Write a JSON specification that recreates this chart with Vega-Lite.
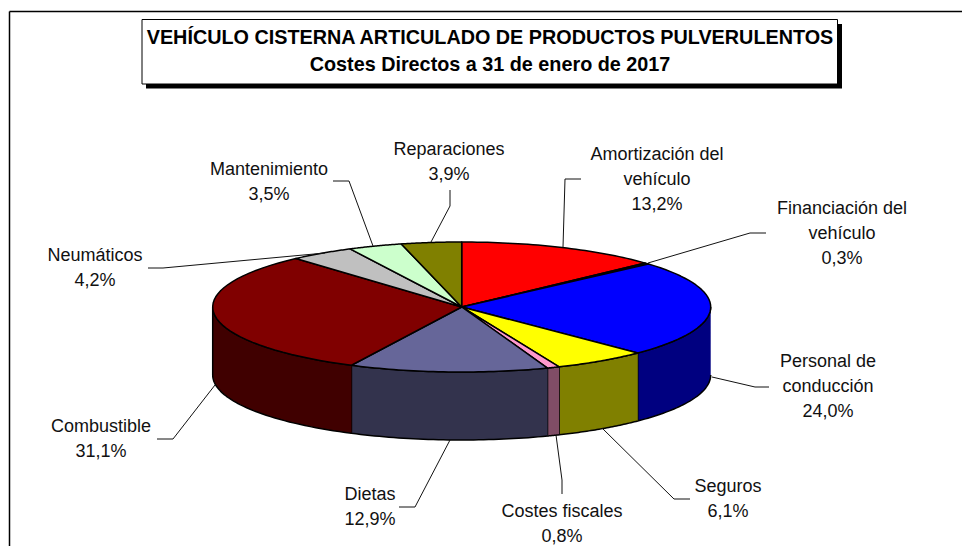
{
"$schema":"https://vega.github.io/schema/vega-lite/v6.json",
"width":953,"height":535,"autosize":"none",
"padding":{"left":9,"top":11,"right":0,"bottom":0},
"background":"white",
"config":{"view":{"stroke":null},"font":"Liberation Sans"},
"data":{"values":[
{"name":"Amortización del vehículo","label":"Amortización del\nvehículo","value":13.2},
{"name":"Financiación del vehículo","label":"Financiación del\nvehículo","value":0.3},
{"name":"Personal de conducción","label":"Personal de\nconducción","value":24.0},
{"name":"Seguros","label":"Seguros","value":6.1},
{"name":"Costes fiscales","label":"Costes fiscales","value":0.8},
{"name":"Dietas","label":"Dietas","value":12.9},
{"name":"Combustible","label":"Combustible","value":31.1},
{"name":"Neumáticos","label":"Neumáticos","value":4.2},
{"name":"Mantenimiento","label":"Mantenimiento","value":3.5},
{"name":"Reparaciones","label":"Reparaciones","value":3.9}
]},
"transform":[
{"window":[{"op":"sum","field":"value","as":"cum"}]},
{"calculate":"2*PI*(datum.cum-datum.value)/100","as":"t0"},
{"calculate":"2*PI*datum.cum/100","as":"t1"}
],
"encoding":{
"x":{"field":"px","type":"quantitative","scale":{"domain":[9,962],"range":[0,953]},"axis":{"orient":"top","ticks":false,"labels":false,"grid":false,"title":null,"domainColor":"black","domainWidth":1.5}},
"y":{"field":"py","type":"quantitative","scale":{"domain":[11,546],"range":[0,535]},"axis":{"orient":"left","ticks":false,"labels":false,"grid":false,"title":null,"domainColor":"black","domainWidth":1.5}}
},
"layer":[
{"data":{"values":[{"box":"shadow"}]},
 "transform":[{"calculate":"146","as":"px"},{"calculate":"842","as":"px2"},{"calculate":"24","as":"py"},{"calculate":"88.5","as":"py2"}],
 "mark":{"type":"rect","fill":"black"},
 "encoding":{"x2":{"field":"px2"},"y2":{"field":"py2"}}},
{"data":{"values":[{"box":"title"}]},
 "transform":[{"calculate":"142","as":"px"},{"calculate":"837.5","as":"px2"},{"calculate":"19.5","as":"py"},{"calculate":"84","as":"py2"}],
 "mark":{"type":"rect","fill":"white","stroke":"black","strokeWidth":1},
 "encoding":{"x2":{"field":"px2"},"y2":{"field":"py2"}}},
{"data":{"values":[{"title":"VEHÍCULO CISTERNA ARTICULADO DE PRODUCTOS PULVERULENTOS\nCostes Directos a 31 de enero de 2017"}]},
 "transform":[{"calculate":"490","as":"px"},{"calculate":"43.5","as":"py"}],
 "mark":{"type":"text","font":"Liberation Sans","fontSize":19.8,"fontWeight":"bold","lineBreak":"\n","lineHeight":27.5,"align":"center","baseline":"alphabetic","color":"black"},
 "encoding":{"text":{"field":"title"}}},
{"transform":[
 {"filter":"datum.t1>PI/2 && datum.t0<3*PI/2"},
 {"calculate":"max(datum.t0,PI/2)","as":"w0"},
 {"calculate":"min(datum.t1,3*PI/2)","as":"w1"},
 {"calculate":"sequence(0,82)","as":"step"},
 {"flatten":["step"]},
 {"calculate":"datum.step<=40 ? datum.w0+(datum.w1-datum.w0)*datum.step/40 : datum.w0+(datum.w1-datum.w0)*(81-datum.step)/40","as":"t"},
 {"calculate":"461.7+249*sin(datum.t)","as":"px"},
 {"calculate":"307-65*cos(datum.t)+(datum.step<=40?0:68)","as":"py"}
 ],
 "mark":{"type":"line","filled":true,"stroke":"black","strokeWidth":1.5,"strokeJoin":"round"},
 "encoding":{"order":{"field":"step","type":"quantitative"},
  "fill":{"field":"name","type":"nominal","legend":null,"scale":{
   "domain":["Personal de conducción","Seguros","Costes fiscales","Dietas","Combustible"],
   "range":["#000080","#808000","#804D66","#33334D","#400000"]}}}},
{"transform":[
 {"calculate":"sequence(-1,42)","as":"step"},
 {"flatten":["step"]},
 {"calculate":"datum.t0+(datum.t1-datum.t0)*datum.step/40","as":"t"},
 {"calculate":"(datum.step<0||datum.step>40)?461.7:461.7+249*sin(datum.t)","as":"px"},
 {"calculate":"(datum.step<0||datum.step>40)?307:307-65*cos(datum.t)","as":"py"}
 ],
 "mark":{"type":"line","filled":true,"stroke":"black","strokeWidth":1.5,"strokeJoin":"round"},
 "encoding":{"order":{"field":"step","type":"quantitative"},
  "fill":{"field":"name","type":"nominal","legend":null,"scale":{
   "domain":["Amortización del vehículo","Financiación del vehículo","Personal de conducción","Seguros","Costes fiscales","Dietas","Combustible","Neumáticos","Mantenimiento","Reparaciones"],
   "range":["#FF0000","#000080","#0000FF","#FFFF00","#FF99CC","#666699","#800000","#C0C0C0","#CCFFCC","#808000"]}}}},
{"transform":[
 {"calculate":"{'Reparaciones':[450,450,431],'Mantenimiento':[333,349,373],'Neumáticos':[148,163,325],'Amortización del vehículo':[581,565,563],'Financiación del vehículo':[766,750,648],'Personal de conducción':[769,755,712],'Seguros':[690,674,602],'Costes fiscales':[562,562,556],'Dietas':[399,415,450],'Combustible':[157,173,215]}[datum.name]","as":"px"},
 {"calculate":"{'Reparaciones':[190,206,242],'Mantenimiento':[181,181,246],'Neumáticos':[268,268,253],'Amortización del vehículo':[179,179,247],'Financiación del vehículo':[233,233,263],'Personal de conducción':[387,387,377],'Seguros':[499,499,428],'Costes fiscales':[494,480,435],'Dietas':[507,507,440],'Combustible':[439,439,385]}[datum.name]","as":"py"},
 {"calculate":"[0,1,2]","as":"step"},
 {"flatten":["px","py","step"]}
 ],
 "mark":{"type":"line","stroke":"#111111","strokeWidth":1},
 "encoding":{"order":{"field":"step","type":"quantitative"},"detail":{"field":"name"}}},
{"transform":[
 {"calculate":"{'Reparaciones':449,'Mantenimiento':269,'Neumáticos':95,'Amortización del vehículo':657,'Financiación del vehículo':842,'Personal de conducción':828,'Seguros':728,'Costes fiscales':562,'Dietas':370,'Combustible':101}[datum.name]","as":"px"},
 {"calculate":"{'Reparaciones':155,'Mantenimiento':175,'Neumáticos':261,'Amortización del vehículo':160,'Financiación del vehículo':214,'Personal de conducción':367,'Seguros':492,'Costes fiscales':517,'Dietas':500,'Combustible':432}[datum.name]","as":"py"},
 {"calculate":"datum.label+'\\n'+replace(format(datum.value,'.1f'),'.',',')+'%'","as":"txt"}
 ],
 "mark":{"type":"text","font":"Liberation Sans","fontSize":18,"lineBreak":"\n","lineHeight":25,"align":"center","baseline":"alphabetic","color":"#111111"},
 "encoding":{"text":{"field":"txt"}}}
],
"resolve":{"scale":{"fill":"independent"}}
}
